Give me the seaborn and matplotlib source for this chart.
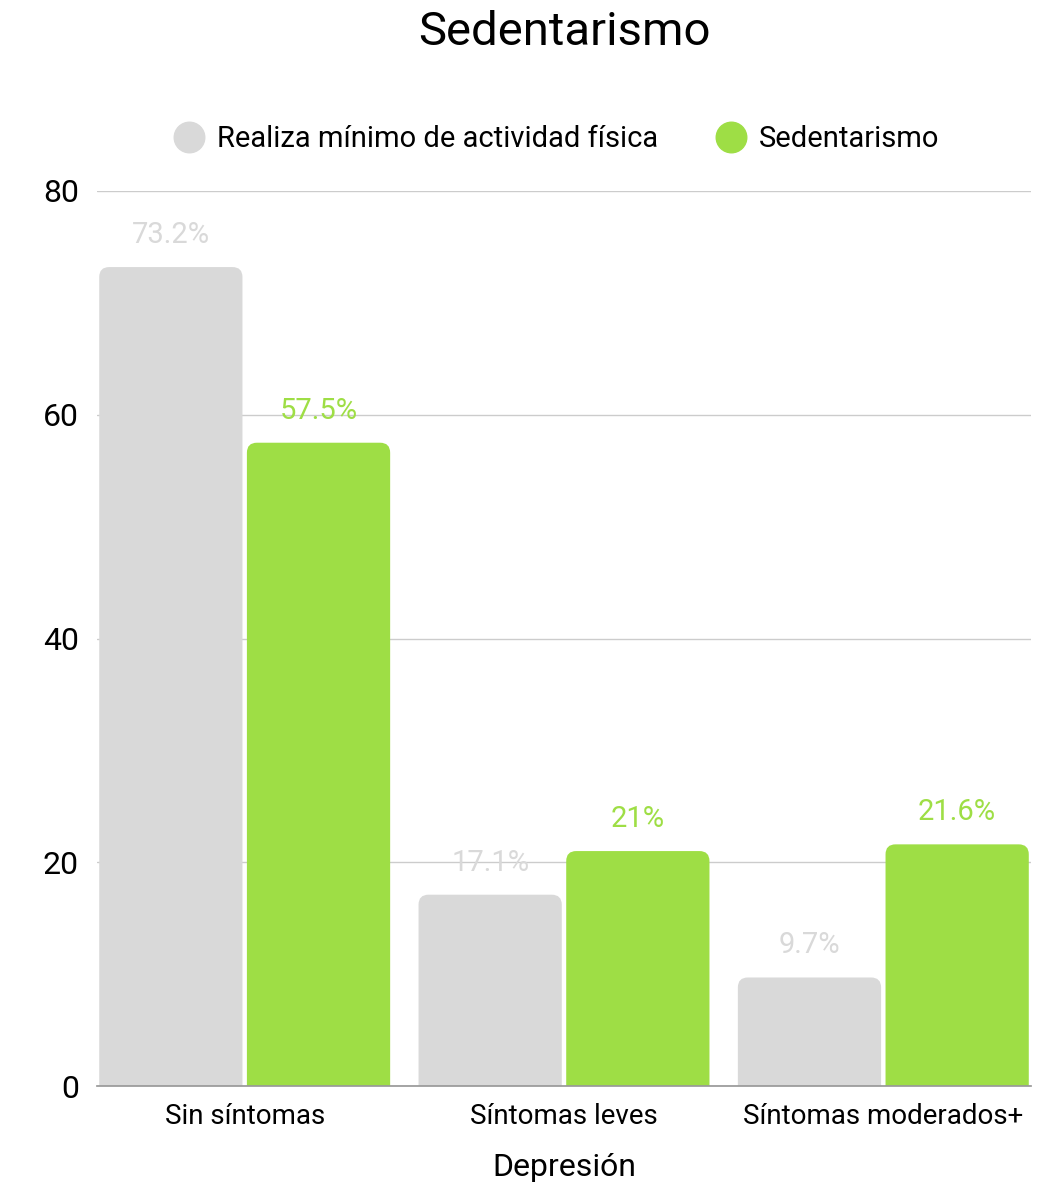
import matplotlib
matplotlib.use("Agg")
import matplotlib.pyplot as plt
from matplotlib.patches import FancyBboxPatch
from matplotlib.lines import Line2D
import seaborn as sns
import pandas as pd

# data
categorias = ["Sin síntomas", "Síntomas leves", "Síntomas moderados+"]
series = ["Realiza mínimo de actividad física", "Sedentarismo"]
actividad = [73.2, 17.1, 9.7]
sedentarismo = [57.5, 21.0, 21.6]
etiquetas_actividad = ["73.2%", "17.1%", "9.7%"]
etiquetas_sedentarismo = ["57.5%", "21%", "21.6%"]
yticks = [0, 20, 40, 60, 80]
colores = ["#d9d9d9", "#9ede45"]

df = pd.DataFrame({
    "Depresión": categorias * 2,
    "serie": [series[0]] * 3 + [series[1]] * 3,
    "valor": actividad + sedentarismo,
})

sns.set_theme(style="white")
plt.rcParams["font.family"] = ["Roboto", "DejaVu Sans"]

fig = plt.figure(figsize=(10.53, 11.82), dpi=100)
ax = fig.add_axes([97 / 1053, 1 - 1086 / 1182, (1031 - 97) / 1053, (1086 - 191) / 1182])

sns.barplot(data=df, x="Depresión", y="valor", hue="serie", palette=colores,
            saturation=1, width=0.925, gap=0.03, legend=False, ax=ax, zorder=2)

ax.set_xlim(-0.4625, 2.4625)
ax.set_ylim(0, 80)
ax.set_yticks(yticks)
ax.yaxis.grid(True, color="#cccccc", linewidth=1, zorder=0)
ax.set_axisbelow(True)
for s in ["top", "right", "left"]:
    ax.spines[s].set_visible(False)
ax.spines["bottom"].set_color("#999999")
ax.tick_params(axis="both", length=0, colors="#000000")
ax.tick_params(axis="y", pad=13, labelsize=23)
ax.tick_params(axis="x", pad=12, labelsize=20)
ax.set_ylabel("")
ax.set_xlabel("Depresión", fontsize=23, labelpad=17, color="#000000")

# rounded top corners: replace each bar with a rounded patch extended below zero
rx = 10 / 320
ry = 10 / ((1086 - 191) / 80)
for bar in list(ax.patches):
    x, w, h = bar.get_x(), bar.get_width(), bar.get_height()
    fb = FancyBboxPatch((x, -5), w, h + 5,
                        boxstyle=f"round,pad=0,rounding_size={rx}",
                        mutation_aspect=ry / rx,
                        facecolor=bar.get_facecolor(), edgecolor="none", zorder=2)
    ax.add_patch(fb)
    bar.set_visible(False)

for cont, labs, col in zip(ax.containers, [etiquetas_actividad, etiquetas_sedentarismo], colores):
    ax.bar_label(cont, labels=labs, padding=13, color=col, fontsize=21)

fig.text(564 / 1053, 1 - 32 / 1182, "Sedentarismo", ha="center", va="center",
         fontsize=34, color="#000000")

handles = [Line2D([], [], marker="o", linestyle="", markersize=22, color=c) for c in colores]
fig.legend(handles, series, loc="center", bbox_to_anchor=(557 / 1053, 1 - 139 / 1182),
           ncol=2, frameon=False, fontsize=21, handlelength=1.0, handletextpad=0.45,
           columnspacing=2.0, labelcolor="#000000")

fig.savefig("out.png", dpi=100)
